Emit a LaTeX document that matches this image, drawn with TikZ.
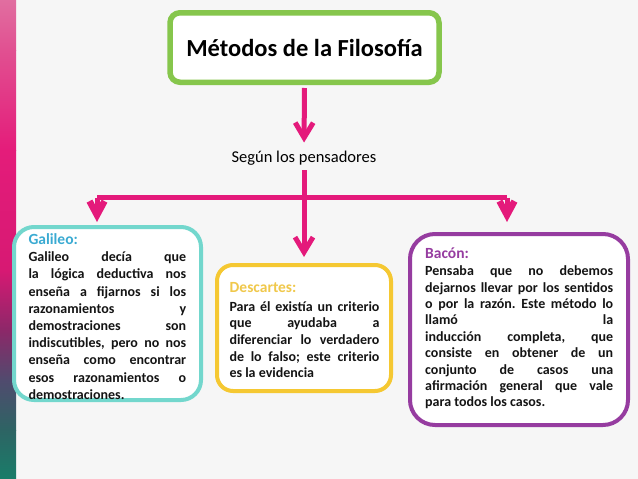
\documentclass[tikz,border=0pt]{standalone}
\usepackage{fontspec}
\setmainfont{Carlito}
\usetikzlibrary{arrows.meta}
\definecolor{mag}{RGB}{228,26,123}
\definecolor{titlegreen}{RGB}{134,198,76}
\definecolor{galframe}{RGB}{115,215,205}
\definecolor{galtext}{RGB}{58,170,210}
\definecolor{desframe}{RGB}{245,200,50}
\definecolor{destext}{RGB}{240,200,75}
\definecolor{bacframe}{RGB}{150,60,160}
\definecolor{bactext}{RGB}{150,60,160}
\definecolor{bgcol}{RGB}{246,246,246}
\definecolor{bodytext}{RGB}{20,20,20}
\definecolor{s0}{RGB}{25,125,105}
\definecolor{s1}{RGB}{45,100,100}
\definecolor{s2}{RGB}{80,75,110}
\definecolor{s3}{RGB}{140,40,105}
\definecolor{s4}{RGB}{215,25,115}
\definecolor{s5}{RGB}{228,28,122}
\definecolor{s6}{RGB}{225,80,145}
\definecolor{s7}{RGB}{225,110,160}
\frenchspacing
\begin{document}
\begin{tikzpicture}[x=1pt,y=-1pt,
  boxframe/.style={draw=#1, line width=4pt, fill=white, inner sep=0pt},
  headtext/.style={font=\fontsize{15.5}{18}\selectfont\bfseries, inner sep=0pt, text=#1},
  bodynode/.style={inner sep=0pt, text=bodytext, anchor=base west},
  magline/.style={draw=mag, line width=5pt},
  arr/.style={magline, -{Straight Barb[length=15pt,width=18pt]}},
  sidearr/.style={magline, -{Straight Barb[length=14pt,width=15pt,line width=6.5pt]}}
]
\useasboundingbox (0,0) rectangle (638,479);
\fill[bgcol] (0,0) rectangle (638,479);
% left decorative strip (shaded segments)
\shade[top color=s7, bottom color=s6] (0,0) rectangle (16,50.5);
\shade[top color=s6, bottom color=s5] (0,50) rectangle (16,150.5);
\shade[top color=s5, bottom color=s4] (0,150) rectangle (16,270.5);
\shade[top color=s4, bottom color=s3] (0,270) rectangle (16,330.5);
\shade[top color=s3, bottom color=s2] (0,330) rectangle (16,380.5);
\shade[top color=s2, bottom color=s1] (0,380) rectangle (16,430.5);
\shade[top color=s1, bottom color=s0] (0,430) rectangle (16,479);

% title
\node[draw=titlegreen, line width=5.5pt, rounded corners=10pt, fill=white,
      minimum width=269pt, minimum height=69.5pt, inner sep=0pt,
      font=\fontsize{24.5}{28}\selectfont\bfseries] (t) at (304.5,47.5) {Métodos de la Filosofía};

% middle label
\node[font=\fontsize{16.5}{20}\selectfont, inner sep=0pt, text height=12pt, text depth=4pt, anchor=base] (s) at (304,162.7) {Según los pensadores};

% frames
\node[boxframe=galframe, rounded corners=20pt, minimum width=187pt, minimum height=173pt] (g) at (107.5,313.5) {};
\node[boxframe=desframe, rounded corners=16pt, minimum width=174pt, minimum height=126pt] (d) at (304,328) {};
\node[boxframe=bacframe, rounded corners=25pt, minimum width=218pt, minimum height=191pt] (b) at (519,329.5) {};

% headings
\node[headtext=galtext, anchor=base west] (gh) at (28.3,244.3) {Galileo:};
\node[headtext=destext, anchor=base west] (dh) at (229.5,292.3) {Descartes:};
\node[headtext=bactext, anchor=base west] (bh) at (425,258.3) {Bacón:};

% bodies
\node[bodynode] (gb) at (28.3,261.7) {\parbox[t]{157.7pt}{\fontsize{14}{17.2}\selectfont\bfseries
\makebox[\linewidth][s]{Galileo decía que}\\
\makebox[\linewidth][s]{la lógica deductiva nos}\\
\makebox[\linewidth][s]{enseña a fijarnos si los}\\
\makebox[\linewidth][s]{razonamientos y}\\
\makebox[\linewidth][s]{demostraciones son}\\
\makebox[\linewidth][s]{indiscutibles, pero no nos}\\
\makebox[\linewidth][s]{enseña como encontrar}\\
\makebox[\linewidth][s]{esos razonamientos o}\\
demostraciones.}};

\node[bodynode] (db) at (229.3,311) {\parbox[t]{150pt}{\fontsize{14}{16.7}\selectfont\bfseries
\makebox[\linewidth][s]{Para él existía un criterio}\\
\makebox[\linewidth][s]{que ayudaba a}\\
\makebox[\linewidth][s]{diferenciar lo verdadero}\\
\makebox[\linewidth][s]{de lo falso; este criterio}\\
es la evidencia}};

\node[bodynode] (bb) at (425,275.7) {\parbox[t]{188pt}{\fontsize{14}{16.4}\selectfont\bfseries
\makebox[\linewidth][s]{Pensaba que no debemos}\\
\makebox[\linewidth][s]{dejarnos llevar por los sentidos}\\
\makebox[\linewidth][s]{o por la razón. Este método lo}\\
\makebox[\linewidth][s]{llamó la}\\
\makebox[\linewidth][s]{inducción completa, que}\\
\makebox[\linewidth][s]{consiste en obtener de un}\\
\makebox[\linewidth][s]{conjunto de casos una}\\
\makebox[\linewidth][s]{afirmación general que vale}\\
para todos los casos.}};

% connectors
\coordinate (jl) at (97,197.5);
\coordinate (jr) at (507,197.5);
\draw[arr, shorten <=3pt, shorten >=8pt] (t.south) -- (s.north);
\draw[magline, line width=4.5pt] (jl) -- (jr);
\draw[arr, shorten <=3.3pt, shorten >=6pt] (s.south) -- (d.north);
\draw[sidearr, shorten >=3pt] (jl) -- (g.north -| jl);
\draw[sidearr, shorten >=10pt] (jr) -- (b.north -| jr);
\end{tikzpicture}
\end{document}
